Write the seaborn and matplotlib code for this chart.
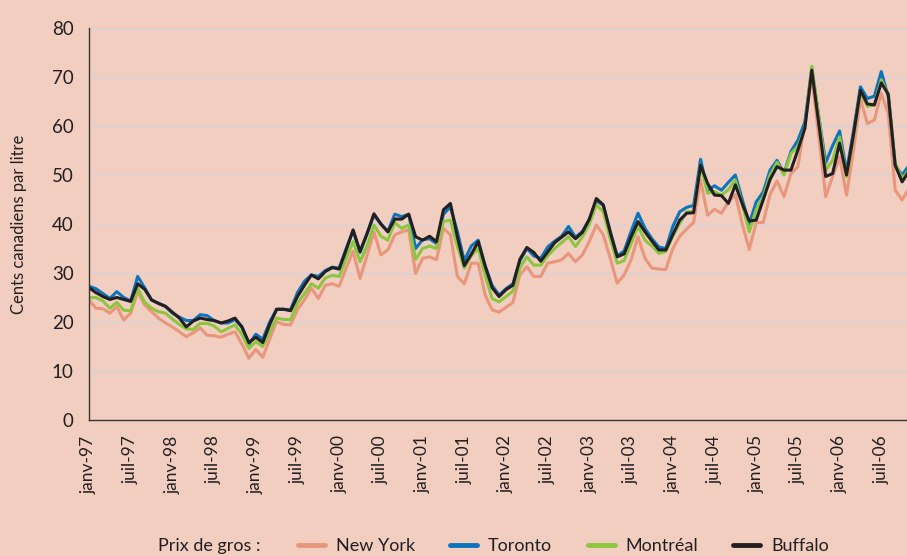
import numpy as np
import pandas as pd
import matplotlib
matplotlib.use("Agg")
import matplotlib.pyplot as plt
import seaborn as sns

# ---------------------------------------------------------------
# Prix de gros de l'essence, cents canadiens par litre (janv-97 ...)
# ---------------------------------------------------------------
new_york = [
    24.5, 22.8, 22.7, 21.8, 23.1, 20.4, 21.8, 26.2, 23.5, 22.1, 20.8, 19.8,
    19.0, 18.0, 17.0, 17.8, 18.8, 17.3, 17.2, 16.9, 17.5, 18.0, 15.5, 12.6,
    14.4, 12.8, 16.5, 20.1, 19.5, 19.4, 22.5, 24.5, 26.9, 24.8, 27.5, 27.8,
    27.3, 31.0, 34.4, 28.9, 33.5, 38.4, 33.7, 34.7, 37.8, 38.4, 38.8, 29.9,
    33.0, 33.3, 32.7, 39.1, 37.8, 29.3, 27.8, 32.0, 32.0, 25.5, 22.5, 22.0,
    23.0, 24.0, 29.6, 31.3, 29.3, 29.3, 32.0, 32.3, 32.7, 34.0, 32.3, 33.7,
    36.5, 39.8, 37.8, 33.0, 27.9, 29.6, 32.7, 37.4, 33.0, 31.0, 30.8, 30.7,
    35.0, 37.5, 39.0, 40.3, 49.0, 41.8, 43.0, 42.2, 44.5, 46.0, 40.0, 34.8,
    40.3, 40.3, 46.0, 48.8, 45.6, 50.3, 51.7, 60.5, 70.0, 58.0, 45.6, 49.7,
    53.7, 45.9, 55.1, 65.6, 60.5, 61.2, 66.7, 62.5, 46.9, 44.9, 47.3,
]
toronto = [
    27.3, 26.8, 25.8, 24.8, 26.2, 25.0, 24.3, 29.3, 27.0, 24.5, 23.8, 23.2,
    21.8, 21.0, 20.3, 20.3, 21.5, 21.3, 20.3, 19.8, 19.8, 20.5, 19.0, 15.5,
    17.5, 16.5, 20.0, 22.6, 22.6, 22.5, 26.0, 28.3, 29.6, 29.3, 30.5, 31.2,
    31.0, 35.0, 38.6, 34.2, 38.0, 41.8, 40.0, 38.5, 42.0, 41.5, 42.0, 35.0,
    36.8, 37.0, 36.0, 42.0, 43.5, 38.5, 32.5, 35.5, 36.7, 31.5, 27.5, 25.5,
    26.8, 27.8, 32.5, 35.0, 33.5, 33.0, 35.3, 36.5, 37.5, 39.5, 37.3, 38.5,
    41.0, 44.8, 43.8, 38.5, 33.5, 34.5, 38.5, 42.2, 39.1, 37.0, 35.3, 35.0,
    39.5, 42.5, 43.4, 43.8, 53.2, 46.8, 47.8, 46.9, 48.5, 50.0, 45.0, 40.0,
    44.5, 46.5, 51.0, 53.0, 50.3, 54.8, 57.1, 60.8, 71.8, 62.0, 52.5, 56.0,
    59.0, 50.7, 59.0, 68.0, 65.6, 66.1, 71.1, 66.0, 52.0, 50.0, 52.0,
]
montreal = [
    25.0, 25.0, 24.3, 22.8, 24.0, 22.4, 22.3, 26.9, 24.1, 22.8, 22.1, 21.8,
    20.6, 19.5, 18.6, 18.5, 19.7, 19.7, 19.2, 18.0, 18.7, 19.4, 17.5, 14.6,
    16.0, 15.0, 18.0, 20.8, 20.5, 20.5, 23.8, 25.8, 27.8, 26.9, 29.0, 29.5,
    29.3, 33.0, 36.4, 32.3, 35.5, 39.8, 37.5, 36.7, 40.3, 39.1, 39.8, 32.8,
    35.0, 35.5, 35.0, 40.5, 40.8, 35.4, 31.0, 33.5, 35.0, 29.5, 24.8, 24.1,
    25.2, 26.3, 31.0, 33.3, 31.6, 31.6, 33.5, 35.0, 36.2, 37.4, 35.4, 37.4,
    40.0, 43.9, 42.5, 37.0, 32.0, 32.5, 36.0, 39.5, 36.7, 35.5, 34.0, 34.4,
    37.5, 40.1, 42.5, 42.5, 52.0, 46.3, 46.6, 45.9, 47.0, 49.0, 44.0, 38.4,
    42.9, 45.5, 50.0, 52.6, 50.0, 54.4, 55.8, 59.5, 72.2, 62.0, 51.0, 53.0,
    57.8, 49.7, 58.0, 67.0, 64.0, 64.3, 69.4, 66.5, 52.5, 49.3, 51.0,
]
buffalo = [
    27.0, 26.0, 25.2, 24.6, 25.0, 24.6, 24.2, 27.8, 26.7, 24.5, 23.8, 23.2,
    22.0, 20.8, 19.0, 20.2, 20.8, 20.5, 20.3, 19.8, 20.2, 20.8, 19.0, 15.8,
    16.9, 15.8, 19.5, 22.6, 22.6, 22.3, 25.2, 27.5, 29.6, 28.8, 30.3, 31.1,
    30.8, 34.7, 38.8, 34.4, 38.0, 42.1, 40.0, 38.4, 41.0, 41.0, 42.0, 37.4,
    36.7, 37.5, 36.4, 42.9, 44.2, 37.4, 31.5, 33.8, 36.4, 31.4, 27.0, 25.2,
    26.6, 27.5, 32.8, 35.2, 34.2, 32.4, 34.3, 36.2, 37.3, 38.4, 37.0, 38.3,
    41.0, 45.2, 43.9, 38.3, 33.3, 33.9, 37.4, 40.5, 38.4, 36.5, 34.7, 34.7,
    37.8, 40.8, 42.2, 42.3, 52.0, 48.3, 45.9, 45.8, 44.2, 48.0, 44.1, 40.6,
    40.8, 44.9, 49.1, 51.7, 51.0, 51.0, 55.1, 59.5, 71.4, 60.5, 49.7, 50.3,
    56.5, 50.0, 58.2, 67.3, 64.5, 64.3, 68.8, 66.5, 52.0, 48.6, 50.8,
]

series_names = ["New York", "Toronto", "Montréal", "Buffalo"]
series_colors = ["#E8967C", "#0B74BD", "#8CC63F", "#231F20"]

tick_labels = [
    "janv-97", "juil-97", "janv-98", "juil-98", "janv-99", "juil-99",
    "janv-00", "juil-00", "janv-01", "juil-01", "janv-02", "juil-02",
    "janv-03", "juil-03", "janv-04", "juil-04", "janv-05", "juil-05",
    "janv-06", "juil-06",
]

# ---------------------------------------------------------------
# tableau long pour seaborn
# ---------------------------------------------------------------
months = np.arange(len(buffalo))
frames = []
for name, vals in zip(series_names, [new_york, toronto, montreal, buffalo]):
    frames.append(pd.DataFrame({"mois": months, "prix": vals, "ville": name}))
df = pd.concat(frames, ignore_index=True)

BG = "#F2CEC0"
TXT = "#231F20"

sns.set_theme(style="white")
plt.rcParams["font.family"] = ["Lato", "DejaVu Sans"]

fig = plt.figure(figsize=(9.07, 5.56), dpi=100, facecolor=BG)
ax = fig.add_axes([89 / 907, 1 - 420 / 556, 818 / 907, 392 / 556])
ax.set_facecolor(BG)

sns.lineplot(data=df, x="mois", y="prix", hue="ville",
             hue_order=series_names, palette=series_colors,
             linewidth=2.2, ax=ax, sort=False)

ax.set_xlim(0, 117.7)
ax.set_ylim(0, 80)
ax.set_yticks(np.arange(0, 81, 10))
ax.set_xticks(np.arange(0, 6 * len(tick_labels), 6))
ax.set_xticklabels(tick_labels, rotation=90, fontsize=12.5, color=TXT)
ax.tick_params(axis="y", labelsize=13.5, colors=TXT, length=5, width=1, direction="out", pad=6)
ax.tick_params(axis="x", length=6, width=1, direction="out", pad=5, colors=TXT)
ax.yaxis.grid(True, color="#D7D3D8", linewidth=1)
ax.set_axisbelow(True)

for side in ["top", "right"]:
    ax.spines[side].set_visible(False)
for side in ["left", "bottom"]:
    ax.spines[side].set_color("#3A3536")
    ax.spines[side].set_linewidth(1)

ax.set_xlabel("")
ax.set_ylabel("Cents canadiens par litre", fontsize=12, color=TXT, labelpad=18)

# légende en bas
handles, labels = ax.get_legend_handles_labels()
ax.get_legend().remove()
fig.text(158 / 907, 1 - 546 / 556, "Prix de gros :", fontsize=13, color=TXT,
         ha="left", va="center")
leg = fig.legend(handles, labels, loc="center left",
                 bbox_to_anchor=(298 / 907, 1 - 546 / 556), ncol=4,
                 frameon=False, fontsize=13, handlelength=1.5,
                 handletextpad=0.6, columnspacing=1.95, borderpad=0,
                 borderaxespad=0)
for line in leg.get_lines():
    line.set_linewidth(3.5)
for t in leg.get_texts():
    t.set_color(TXT)

fig.savefig("out.png", dpi=100, facecolor=BG)
